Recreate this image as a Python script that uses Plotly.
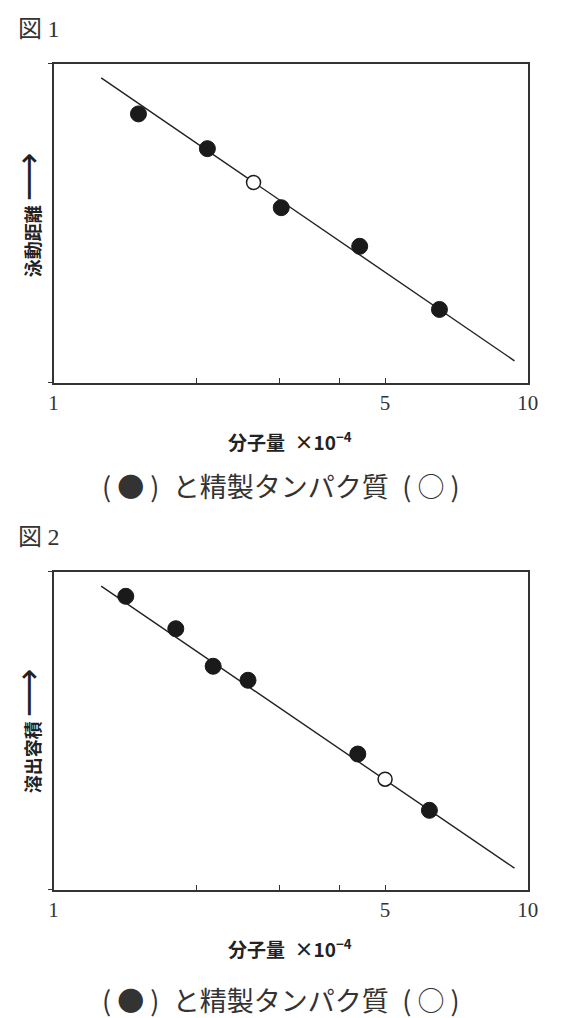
import plotly.graph_objects as go
from plotly.subplots import make_subplots

# 図1: SDS電気泳動  (分子量 x10^-4 vs 泳動距離, 任意単位)
fig1_std_x = [1.51, 2.11, 3.02, 4.42, 6.51]
fig1_std_y = [84.2, 73.3, 54.8, 42.7, 22.9]
fig1_pur_x = [2.64]
fig1_pur_y = [62.7]
fig1_line_x = [1.26, 9.37]
fig1_line_y = [95.5, 6.8]

# 図2: ゲルろ過  (分子量 x10^-4 vs 溶出容積, 任意単位)
fig2_std_x = [1.42, 1.81, 2.17, 2.57, 4.38, 6.20]
fig2_std_y = [92.2, 82.0, 70.2, 65.8, 42.6, 24.9]
fig2_pur_x = [5.0]
fig2_pur_y = [34.7]
fig2_line_x = [1.26, 9.37]
fig2_line_y = [95.4, 6.7]

tick_vals = [1, 2, 3, 4, 5, 10]
tick_text = ["1", "", "", "", "5", "10"]

W, H = 561, 1018
# the page is drawn slightly shifted/squeezed, so target pixels are corrected here
def px(v):  # reference pixel x -> paper
    return (v - 11.2) / 0.977 / W
def py(v):  # reference pixel y (from top) -> paper
    return 1 - (v - 7.5) / H

ink = "#222222"
serif = "Liberation Serif"
sans = "Noto Sans CJK JP"

fig = make_subplots(rows=2, cols=1)

panels = [
    (1, fig1_std_x, fig1_std_y, fig1_pur_x, fig1_pur_y, fig1_line_x, fig1_line_y),
    (2, fig2_std_x, fig2_std_y, fig2_pur_x, fig2_pur_y, fig2_line_x, fig2_line_y),
]
for row, sx, sy, qx, qy, lx, ly in panels:
    fig.add_trace(go.Scatter(x=lx, y=ly, mode="lines",
                             line=dict(color=ink, width=1.4),
                             hoverinfo="none", showlegend=False), row=row, col=1)
    fig.add_trace(go.Scatter(x=sx, y=sy, mode="markers",
                             marker=dict(size=16, color="#1a1a1a",
                                         line=dict(color="#1a1a1a", width=1)),
                             showlegend=False), row=row, col=1)
    fig.add_trace(go.Scatter(x=qx, y=qy, mode="markers",
                             marker=dict(size=14, color="white",
                                         line=dict(color="#1a1a1a", width=1.5)),
                             showlegend=False), row=row, col=1)

axis_x = dict(type="log", range=[0, 1], tickvals=tick_vals, ticktext=tick_text,
              ticks="inside", ticklen=5, tickwidth=1.3, tickcolor="#333",
              showline=True, mirror=True, linecolor="#333", linewidth=1.6,
              showgrid=False, zeroline=False,
              tickfont=dict(family=serif, size=21, color="#333"),
              minor=dict(tickvals=[1, 10], ticks="outside", ticklen=4,
                         tickwidth=1.3, tickcolor="#333", showgrid=False))
axis_y = dict(range=[0, 100], tickvals=[0, 100], ticktext=["", ""],
              ticks="outside", ticklen=4, tickwidth=1.3, tickcolor="#333",
              showline=True, mirror=True, linecolor="#333", linewidth=1.6,
              showgrid=False, zeroline=False)

xdom = [px(52), px(529)]
fig.update_layout(
    xaxis=dict(axis_x, domain=xdom),
    xaxis2=dict(axis_x, domain=xdom),
    yaxis=dict(axis_y, domain=[py(382), py(63)]),
    yaxis2=dict(axis_y, domain=[py(889), py(571)]),
    width=W, height=H,
    margin=dict(l=0, r=0, t=0, b=0),
    paper_bgcolor="white", plot_bgcolor="white",
)

arrow = "<span style='font-family:DejaVu Sans;font-size:34px;font-weight:normal'>⟶</span>"
annos = []
for fig_no, top, bottom, ymid, ytitle, cap_dy in [(1, 63, 382, 214, "泳動距離", 103),
                                                  (2, 571, 889, 730, "溶出容積", 110)]:
    common = dict(xref="paper", yref="paper", showarrow=False, yanchor="middle")
    annos.append(dict(common, x=px(14), y=py(top - 37), xanchor="left",
                      text="図 <span style='font-family:Liberation Serif'>%d</span>" % fig_no,
                      font=dict(family=sans, size=24, color="#333")))
    annos.append(dict(common, x=px(26), y=py(ymid), textangle=-90, xanchor="center",
                      text="<b>" + ytitle + "</b> " + arrow,
                      font=dict(family=sans, size=18, color="#222")))
    annos.append(dict(common, x=px(290), y=py(bottom + 58), xanchor="center",
                      text="<b>分子量</b>\u2002<b>×10</b><sup><b>−4</b></sup>",
                      font=dict(family=sans, size=19, color="#222")))
    annos.append(dict(common, x=px(281), y=py(bottom + cap_dy), xanchor="center",
                      text="( ● )\u2002と精製タンパク質\u2002( ○ )",
                      font=dict(family=sans, size=27, color="#333")))
fig.update_layout(annotations=annos)

fig.write_html("out.html")
